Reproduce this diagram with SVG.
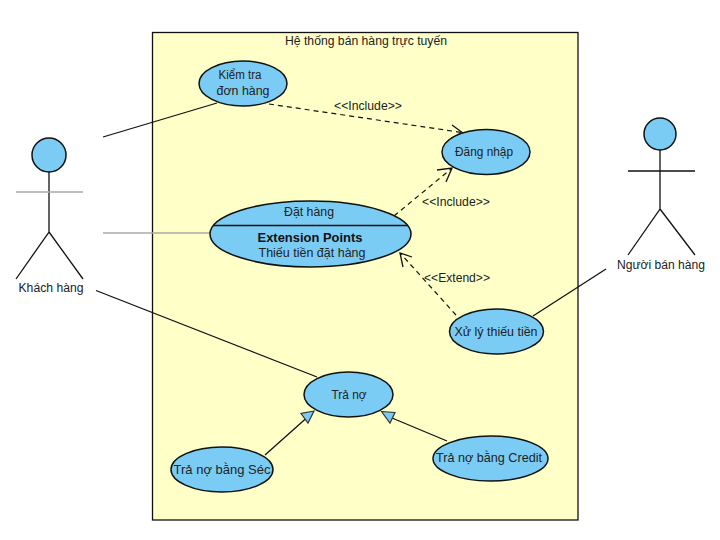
<svg xmlns="http://www.w3.org/2000/svg" width="720" height="540" viewBox="0 0 720 540">
<style>
text{font-family:"Liberation Sans",Arial,sans-serif;font-size:12px;fill:#222;text-anchor:middle}
.b{font-weight:bold;fill:#111}
.u{fill:#7accf4;stroke:#111;stroke-width:1.5}
.l{fill:none;stroke:#111;stroke-width:1.3}
.g{fill:none;stroke:#aaa;stroke-width:1.5}
.d{fill:none;stroke:#111;stroke-width:1.2;stroke-dasharray:5 4}
.t{fill:#7accf4;stroke:#333;stroke-width:1.2}
</style>
<rect width="720" height="540" fill="#fff"/>
<g id="system"><rect x="152.500" y="32.500" width="425.500" height="487.500" fill="#ffffc8" stroke="#111" stroke-width="1.300"/><text x="366" y="45" textLength="162" lengthAdjust="spacingAndGlyphs">Hệ thống bán hàng trực tuyến</text></g>
<g id="connectors">
<path class="l" d="M103 137L217 103"/>
<path class="g" d="M103 233H210"/>
<path class="l" d="M96 290.500L317 377"/>
<path class="l" d="M606 269L533 316"/>
<path class="d" d="M269 104L462 132.500"/>
<path class="l" d="M452 125L463 133L451 138"/>
<path class="d" d="M394 216L451 169"/>
<path class="l" d="M437 170L452 168L446 182"/>
<path class="d" d="M456 315L401 254"/>
<path class="l" d="M412 257L400 253L403 267"/>
<path class="l" d="M265 455L311 414"/>
<path class="t" d="M314 411L301 413.500L308 423Z"/>
<path class="l" d="M447 441L392 418"/>
<path class="t" d="M381.500 411.500L395 412.500L390 423Z"/>
<text x="368" y="110" textLength="68" lengthAdjust="spacingAndGlyphs">&lt;&lt;Include&gt;&gt;</text>
<text x="456" y="206" textLength="68" lengthAdjust="spacingAndGlyphs">&lt;&lt;Include&gt;&gt;</text>
<text x="457" y="282" textLength="66" lengthAdjust="spacingAndGlyphs">&lt;&lt;Extend&gt;&gt;</text>
</g>
<g id="actor-khach-hang"><circle class="u" cx="49" cy="155" r="17"/><path class="l" d="M49 172V232L16 279M49 232L83 279"/><path class="g" d="M16 192H83"/><text x="51" y="292" textLength="65" lengthAdjust="spacingAndGlyphs">Khách hàng</text></g>
<g id="actor-nguoi-ban-hang"><circle class="u" cx="660" cy="134" r="16"/><path class="l" d="M660 150V209L628 255M660 209L695 255M628 171H695"/><text x="661" y="269" textLength="88" lengthAdjust="spacingAndGlyphs">Người bán hàng</text></g>
<g id="kiem-tra"><ellipse class="u" cx="243" cy="83.500" rx="44" ry="22.500"/><text x="240" y="79" textLength="43" lengthAdjust="spacingAndGlyphs">Kiểm tra</text><text x="243" y="95" textLength="53" lengthAdjust="spacingAndGlyphs">đơn hàng</text></g>
<g id="dang-nhap"><ellipse class="u" cx="486" cy="152" rx="44" ry="22.500"/><text x="484" y="156" textLength="58" lengthAdjust="spacingAndGlyphs">Đăng nhập</text></g>
<g id="dat-hang"><ellipse class="u" cx="310.500" cy="234" rx="100.500" ry="33"/><path class="l" d="M213.500 225.500H407.500"/><text x="309" y="216" textLength="50" lengthAdjust="spacingAndGlyphs">Đặt hàng</text><text class="b" x="310" y="242" textLength="105" lengthAdjust="spacingAndGlyphs">Extension Points</text><text x="312" y="257" textLength="107" lengthAdjust="spacingAndGlyphs">Thiếu tiền đặt hàng</text></g>
<g id="xu-ly"><ellipse class="u" cx="496.500" cy="331.500" rx="47" ry="22.500"/><text x="496" y="336" textLength="83" lengthAdjust="spacingAndGlyphs">Xử lý thiếu tiền</text></g>
<g id="tra-no"><ellipse class="u" cx="348.500" cy="394.500" rx="44.500" ry="22.500"/><text x="349" y="399" textLength="35" lengthAdjust="spacingAndGlyphs">Trả nợ</text></g>
<g id="tra-no-sec"><ellipse class="u" cx="222" cy="469.500" rx="51" ry="22.500"/><text x="222" y="474" textLength="97" lengthAdjust="spacingAndGlyphs">Trả nợ bằng Séc</text></g>
<g id="tra-no-credit"><ellipse class="u" cx="490.500" cy="458.500" rx="57.500" ry="22.500"/><text x="489" y="462" textLength="106" lengthAdjust="spacingAndGlyphs">Trả nợ bằng Credit</text></g>
</svg>
